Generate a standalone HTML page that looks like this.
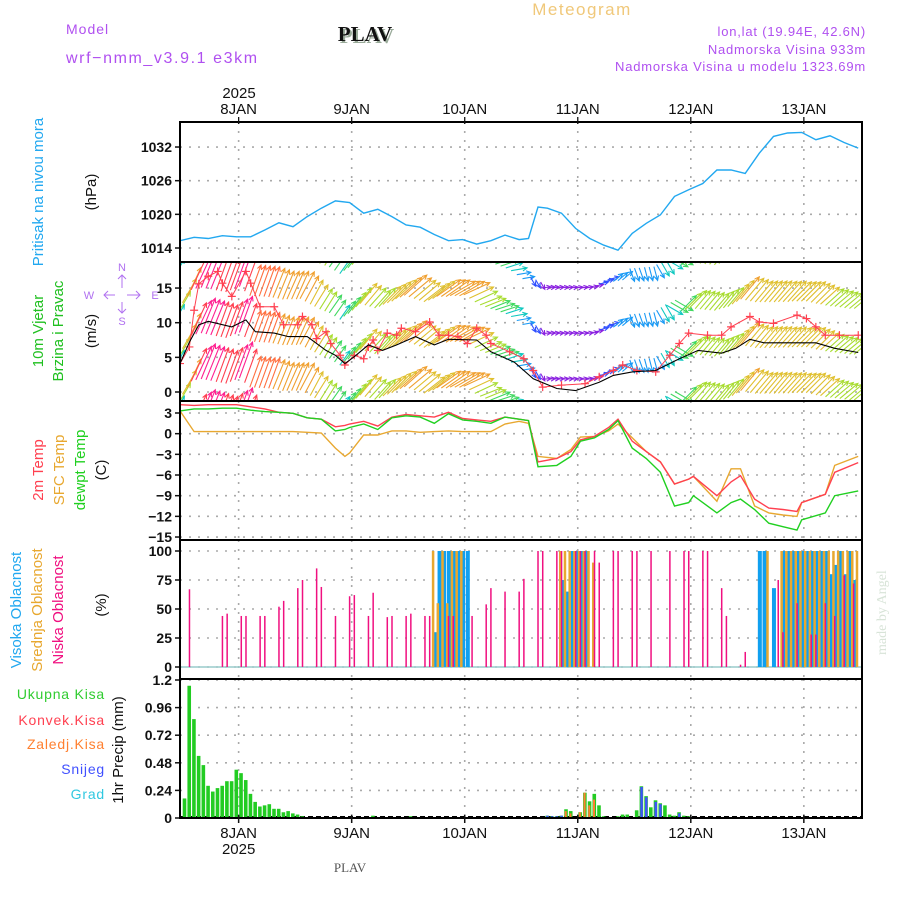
<!DOCTYPE html>
<html><head><meta charset="utf-8"><style>
html,body{margin:0;padding:0;background:#fff;}
svg{display:block;font-family:"Liberation Sans",sans-serif;}
</style></head><body>
<svg id="chart" width="900" height="900" viewBox="0 0 900 900" xmlns="http://www.w3.org/2000/svg">
<defs>
<clipPath id="cp-press"><rect x="180" y="122" width="682" height="140"/></clipPath>
<clipPath id="cp-wind"><rect x="181" y="263" width="680" height="137"/></clipPath>
<clipPath id="cp-temp"><rect x="180" y="401" width="682" height="139"/></clipPath>
<clipPath id="cp-cloud"><rect x="180" y="540" width="682" height="139"/></clipPath>
<clipPath id="cp-prec"><rect x="180" y="679" width="682" height="139"/></clipPath>
</defs>
<!-- header -->
<text x="582" y="15" font-size="17" fill="#f0c87a" text-anchor="middle" letter-spacing="1.5">Meteogram</text>
<text x="66" y="34" font-size="14" fill="#b050f0" letter-spacing="1">Model</text>
<text x="66" y="63" font-size="16" fill="#b050f0" letter-spacing="1.6">wrf−nmm_v3.9.1  e3km</text>
<text x="367" y="43" font-size="21" font-weight="bold" font-family="Liberation Serif,serif" fill="#9a9" text-anchor="middle">PLAV</text>
<text x="365" y="41" font-size="21" font-weight="bold" font-family="Liberation Serif,serif" fill="#111" text-anchor="middle">PLAV</text>
<text x="866" y="36" font-size="13" fill="#b050f0" text-anchor="end" letter-spacing="0.8">lon,lat (19.94E, 42.6N)</text>
<text x="866" y="54" font-size="13" fill="#b050f0" text-anchor="end" letter-spacing="0.8">Nadmorska Visina 933m</text>
<text x="866" y="71" font-size="13" fill="#b050f0" text-anchor="end" letter-spacing="0.8">Nadmorska Visina u modelu 1323.69m</text>
<text x="239" y="98" font-size="15" fill="#111" text-anchor="middle">2025</text>
<text x="350" y="872" font-size="13" font-family="Liberation Serif,serif" fill="#555" text-anchor="middle">PLAV</text>
<text transform="translate(886,655) rotate(-90)" font-size="14" font-family="Liberation Serif,serif" fill="#d8e4d8">made by Angel</text>
<g id="grid"></g>
<g id="marks"></g>
<g id="frames"></g>
<g id="labels"></g>
<!-- axis titles -->
<g font-size="15">
<text transform="translate(43,192) rotate(-90)" text-anchor="middle" fill="#22a8f0">Pritisak na nivou mora</text>
<text transform="translate(96,192) rotate(-90)" text-anchor="middle" fill="#111">(hPa)</text>
<text transform="translate(43,331) rotate(-90)" text-anchor="middle" fill="#20c020">10m Vjetar</text>
<text transform="translate(63,331) rotate(-90)" text-anchor="middle" fill="#20c020">Brzina i Pravac</text>
<text transform="translate(96,331) rotate(-90)" text-anchor="middle" fill="#111">(m/s)</text>
<g>
<path d="M104,295H115M127,295H140M108,291L104,295L108,299M136,291L140,295L136,299M122,275V288M122,302V313M118,279L122,275L126,279M118,309L122,313L126,309" stroke="#b070f0" stroke-width="1" fill="none"/>
<g fill="#b070f0" font-size="11" text-anchor="middle">
<text x="122" y="271">N</text><text x="122" y="325">S</text>
<text x="89" y="299">W</text><text x="155" y="299">E</text>
</g>
</g>
<text transform="translate(43,470) rotate(-90)" text-anchor="middle" fill="#ff4050">2m Temp</text>
<text transform="translate(64,470) rotate(-90)" text-anchor="middle" fill="#e8a830">SFC Temp</text>
<text transform="translate(85,470) rotate(-90)" text-anchor="middle" fill="#20d020">dewpt Temp</text>
<text transform="translate(106,470) rotate(-90)" text-anchor="middle" fill="#111">(C)</text>
<text transform="translate(21,610) rotate(-90)" text-anchor="middle" fill="#22a8f0">Visoka Oblacnost</text>
<text transform="translate(42,610) rotate(-90)" text-anchor="middle" fill="#e8a830">Srednja Oblacnost</text>
<text transform="translate(63,610) rotate(-90)" text-anchor="middle" fill="#f01080">Niska Oblacnost</text>
<text transform="translate(106,605) rotate(-90)" text-anchor="middle" fill="#111">(%)</text>
<g text-anchor="end" font-size="14" letter-spacing="0.8">
<text x="105" y="699" fill="#30cc30">Ukupna  Kisa</text>
<text x="105" y="725" fill="#ff4050">Konvek.Kisa</text>
<text x="105" y="749" fill="#ff8030">Zaledj.Kisa</text>
<text x="105" y="774" fill="#4050ff">Snijeg</text>
<text x="105" y="799" fill="#30c8e0">Grad</text>
</g>
<text transform="translate(123,750) rotate(-90)" text-anchor="middle" fill="#111">1hr Precip (mm)</text>
</g>
</svg>
<script>
// ---------- data ----------
const dayLabels = ["8JAN","9JAN","10JAN","11JAN","12JAN","13JAN"];
const pressTicks = [1014,1020,1026,1032];
const windTicks = [0,5,10,15];
const tempTicks = [3,0,-3,-6,-9,-12,-15];
const cloudTicks = [0,25,50,75,100];
const precTicks = ["0","0.24","0.48","0.72","0.96","1.2"];

const pressHours = [0,3,6,9,12,15,18,21,24,27,30,33,36,39,42,45,48,51,54,57,60,63,66,69,72,74,76,78,81,84,87,90,93,96,99,102,105,108,111,114,117,120,123,126,129,132,135,138,141,144];
const pressVals = [1015.3,1015.9,1015.7,1016.2,1016.0,1016.0,1017.2,1018.5,1017.8,1019.6,1021.1,1022.4,1022.1,1020.2,1020.9,1019.6,1018.1,1017.7,1016.4,1015.3,1015.5,1014.7,1015.3,1016.3,1015.5,1015.7,1021.3,1021.1,1020.2,1017.5,1015.7,1014.5,1013.6,1016.6,1018.4,1019.9,1023.2,1024.4,1025.5,1027.9,1027.9,1027.3,1030.9,1033.9,1034.5,1034.6,1033.3,1034.0,1032.8,1031.8];

const windHours = [0,2,4,6,11,14,16,20,23,27,31,33,35,37,40,43,46,50,54,57,63,66,71,75,80,84,89,92,96,101,106,110,115,118,121,124,131,135,139,144];
const windSpeed = [4.1,7.2,9.7,10.2,9.4,10.4,8.7,8.5,8.0,8.0,6.0,5.3,4.1,5.1,6.8,6.0,6.8,8.0,6.8,7.6,7.5,5.8,4.3,1.9,0.5,0.2,1.4,2.4,2.9,3.1,4.8,6.0,5.6,6.3,7.6,7.1,7.1,7.1,6.3,5.7];
const gustHours = [0,2,3,4,6,8,9,11,14,15,17,20,22,25,26,28,29,31,32,34,35,37,39,40,41,42,44,46,47,50,53,55,57,59,61,63,65,66,70,73,75,77,81,86,89,92,94,97,101,104,106,108,112,115,117,121,123,126,131,133,135,137,140,144];
const gustVals = [4.1,6.5,11.8,15.6,16.7,17.4,15.7,13.8,17.4,15.7,12.3,12.3,9.7,9.7,10.9,9.7,7.7,8.7,7.0,5.3,3.9,5.3,4.8,6.5,7.5,6.0,8.5,8.2,9.2,8.7,10.1,8.2,8.2,8.0,7.0,9.2,8.2,7.0,5.8,4.8,3.1,0.7,1.0,1.2,2.2,3.1,3.9,3.1,2.9,5.3,7.0,8.5,8.2,8.2,9.4,10.9,10.1,9.9,11.1,10.6,9.4,8.2,8.2,8.2];
// direction the arrow points (deg, 0=east, 90=north), every 3 hours from hour 0
const windDir = [60,65,68,70,70,70,70,68,66,62,58,55,52,50,48,45,42,40,38,35,30,25,22,18,10,-60,5,5,8,10,15,40,-70,-75,-60,-30,45,50,50,50,50,50,50,48,45,45,42,40,40];

const tempHours = [0,3,6,9,12,15,18,21,24,27,30,33,35,36,39,42,45,48,51,54,57,60,63,66,69,72,74,76,80,83,85,88,91,93,96,99,102,105,108,109,114,117,119,122,125,128,131,132,137,139,144];
const temp2m = [4.2,4.1,4.2,4.2,4.2,3.9,3.6,3.1,2.95,2.3,2.1,1.0,1.2,1.4,1.8,1.1,2.4,2.8,2.6,2.4,3.1,2.2,2.0,1.8,2.4,2.1,1.9,-4.1,-3.6,-2.6,-0.9,-0.4,0.9,2.1,-1.1,-2.6,-4.1,-7.3,-6.6,-6.2,-9.0,-7.0,-6.1,-9.5,-10.8,-11.0,-11.3,-10.0,-8.8,-5.6,-4.2];
const tempSfc = [3.3,0.3,0.3,0.3,0.3,0.3,0.3,0.3,0.3,0.2,0.1,-2.1,-3.3,-2.8,-0.2,-0.2,0.4,0.4,0.2,0.3,0.4,0.3,0.3,0.3,1.4,1.8,1.5,-3.3,-3.6,-2.3,-0.5,-0.4,0.4,1.4,-0.6,-2.6,-4.1,-7.3,-6.6,-6.2,-9.8,-5.1,-5.1,-10.5,-11.5,-11.8,-12.0,-10.0,-8.8,-4.6,-3.3];
const tempDew = [3.3,3.6,3.6,3.7,3.7,3.4,3.2,3.1,2.95,2.3,2.1,0.4,0.6,0.9,1.4,0.6,2.3,2.6,2.4,1.5,2.9,2.0,1.8,1.5,2.4,2.1,1.9,-4.8,-4.6,-3.3,-1.1,-0.6,0.6,1.9,-2.1,-3.6,-5.6,-10.5,-10.0,-9.0,-11.5,-10.0,-9.5,-11.0,-13.0,-13.5,-14.0,-12.5,-11.5,-9.0,-8.3];

const lowHours = [2,9,10,13,14,17,18,21,22,25,26,29,30,33,36,37,40,41,44,45,48,49,52,53,57,58,62,65,66,69,72,73,76,77,80,81,84,85,86,88,89,92,93,96,97,100,104,107,108,111,112,115,116,119,120,127,128,131,134,135,137,139,141,143];
const lowVals = [67,44,46,44,44,44,44,52,57,68,75,85,69,44,61,62,44,64,43,44,44,46,44,44,44,44,44,54,68,65,65,76,100,100,100,100,100,100,100,100,90,100,100,100,100,100,100,100,100,100,100,68,44,2,13,75,30,55,28,28,55,44,79,72];
const midHours = [54,55,56,57,58,59,60,81,82,83,84,85,86,87,88,125,128,129,130,131,132,133,134,135,136,137,138,139,140,141,142,143,144];
const midVals = [100,55,100,55,100,100,100,100,100,100,100,100,100,100,90,100,100,100,100,100,100,100,100,100,100,100,100,100,100,100,100,100,100];
const highHours = [54,55,56,57,58,59,60,61,81,82,83,84,85,86,123,124,126,128,129,130,131,132,133,134,135,136,137,138,139,140,141,142,143];
const highVals = [30,100,100,100,100,100,100,100,75,65,100,100,100,100,100,100,68,100,100,100,100,100,100,100,100,100,100,80,88,100,80,100,75];

const precHours = [1,2,3,4,5,6,7,8,9,10,11,12,13,14,15,16,17,18,19,20,21,22,23,24,25,26,41,49,78,79,80,81,82,83,85,86,87,88,89,90,93,94,95,97,98,99,100,101,102,103,104,105,106,107,108];
const precTotal = [0.17,1.15,0.86,0.54,0.46,0.28,0.23,0.26,0.28,0.32,0.32,0.42,0.39,0.33,0.21,0.14,0.10,0.11,0.12,0.08,0.08,0.05,0.06,0.04,0.03,0.015,0.02,0.015,0.02,0.015,0.015,0.02,0.076,0.06,0.05,0.22,0.145,0.21,0.11,0.015,0.015,0.03,0.03,0.067,0.276,0.19,0.093,0.154,0.128,0.11,0.03,0.02,0.05,0.02,0.015];
const precFrz = [0,0,0,0,0,0,0,0,0,0,0,0,0,0,0,0,0,0,0,0,0,0,0,0,0,0,0,0,0,0,0,0,0.06,0.04,0.05,0.22,0.11,0.16,0,0,0,0,0,0,0,0,0,0,0,0,0,0,0,0,0];
const precSnow = [0,0,0,0,0,0,0,0,0,0,0,0,0,0,0,0,0,0,0,0,0,0,0,0,0,0,0,0,0.02,0.015,0.015,0.02,0,0,0,0,0,0,0,0,0,0,0,0,0.27,0.18,0,0.14,0.12,0,0,0,0.04,0,0];

// ---------- scales ----------
const X0 = 180, X1 = 862, PXH = 4.71, DAY0 = 12.45;
const xH = h => X0 + h * PXH;
const yPress = p => 248 - (p - 1014) * 5.61;
const yWind = v => 392 - v * 6.93;
const yTemp = t => 413 + (3 - t) * 6.89;
const yCloud = c => 667 - c * 1.16;
const yPrec = p => 818 - p * 115;
const NS = "http://www.w3.org/2000/svg";
function mk(tag, attrs, parent){const e=document.createElementNS(NS,tag);for(const k in attrs)e.setAttribute(k,attrs[k]);if(parent)parent.appendChild(e);return e;}
const grid = document.getElementById('grid'), marks = document.getElementById('marks'), frames = document.getElementById('frames'), labels = document.getElementById('labels');

const panels = [
 {name:'pressure',top:122,bot:262,ticks:pressTicks,f:yPress},
 {name:'wind',top:262,bot:401,ticks:windTicks,f:yWind},
 {name:'temperature',top:401,bot:540,ticks:tempTicks,f:yTemp},
 {name:'cloud',top:540,bot:679,ticks:cloudTicks,f:yCloud},
 {name:'precip',top:679,bot:818,ticks:precTicks,f:v=>yPrec(parseFloat(v))}
];
panels.forEach(p=>{
  p.ticks.forEach(t=>{
    const y=p.f(t);
    const gl=mk('line',{x1:X0,x2:X1,y1:y,y2:y,stroke:'#aaa','stroke-width':1.6,'stroke-dasharray':'2,7'},grid);
    
    
    const tk=mk('line',{x1:X0-5,x2:X0,y1:y,y2:y,stroke:'#111','stroke-width':1.5},frames);
    
    
    const tl=mk('text',{x:X0-8,y:y+5,'text-anchor':'end','font-size':14,'font-weight':'bold',fill:'#111'},labels);
    tl.textContent=String(t).replace('-','\u2212');
    
    
  });
  for(let d=0;d<dayLabels.length;d++){
    const x=xH(DAY0+24*d);
    const vl=mk('line',{x1:x,x2:x,y1:p.top,y2:p.bot,stroke:'#aaa','stroke-width':1.6,'stroke-dasharray':'2,7'},grid);
    
    
  }
  const fr=mk('rect',{x:X0,y:p.top,width:X1-X0,height:p.bot-p.top,fill:'none',stroke:'#000','stroke-width':2},frames);
  
  
});
dayLabels.forEach((d,i)=>{
  const x=xH(DAY0+24*i);
  const t1=mk('line',{x1:x,x2:x,y1:117,y2:124,stroke:'#111','stroke-width':1.3},frames);
  
  
  const t2=mk('line',{x1:x,x2:x,y1:815,y2:823,stroke:'#111','stroke-width':1.5},frames);
  
  
  const a=mk('text',{x:x,y:114,'text-anchor':'middle','font-size':15,fill:'#111'},labels);
  a.textContent=d;
  
  
  const b=mk('text',{x:x,y:838,'text-anchor':'middle','font-size':15,fill:'#111'},labels);
  b.textContent=d;
  
  
});
const yb=mk('text',{x:xH(DAY0),y:854,'text-anchor':'middle','font-size':15,fill:'#111'},labels);
yb.textContent='2025';



function linePath(hours, vals, f){return hours.map((h,i)=>(i?'L':'M')+xH(h).toFixed(1)+','+f(vals[i]).toFixed(1)).join(' ');}
function interp(hours, vals, h){if(h<=hours[0])return vals[0];for(let i=1;i<hours.length;i++){if(h<=hours[i]){const t=(h-hours[i-1])/(hours[i]-hours[i-1]);return vals[i-1]+t*(vals[i]-vals[i-1]);}}return vals[vals.length-1];}

// pressure
const gP=mk('g',{'clip-path':'url(#cp-press)'},marks);
const pl=mk('path',{d:linePath(pressHours,pressVals,yPress),fill:'none',stroke:'#22a8f0','stroke-width':1.4},gP);



// wind arrows
function spdColor(s){
  if(s<1.5)return '#8a20e0'; if(s<2.5)return '#3050ff'; if(s<3.5)return '#1a9af5'; if(s<4.5)return '#10c8c0';
  if(s<5.5)return '#40d860'; if(s<6.5)return '#a8dc30'; if(s<7.5)return '#e0c030'; if(s<8.5)return '#f0a030';
  if(s<9.2)return '#ff7040'; if(s<9.8)return '#ff4050'; return '#ff2090';
}
const gW=mk('g',{'clip-path':'url(#cp-wind)'},marks);
windDir.forEach((ang,i)=>{
  for(let k=0;k<3;k++){
    const h=i*3+k; if(h>145)continue;
    const s=interp(windHours,windSpeed,h);
    const sc=Math.max(s,1.1);
    const L=4+3.3*s, a=ang*Math.PI/180;
    const dx=Math.cos(a)*L, dy=-Math.sin(a)*L;
    const col=spdColor(s);
    for(let r=-3;r<=3;r++){
      const cx=xH(h), cy=yWind(sc+0.8+r*6.6);
      if(cy<240||cy>430)continue;
      const x1=cx-dx/2,y1=cy-dy/2,x2=cx+dx/2,y2=cy+dy/2;
      const ha=Math.atan2(y2-y1,x2-x1);
      const hx1=x2-5*Math.cos(ha-0.45),hy1=y2-5*Math.sin(ha-0.45),hx2=x2-5*Math.cos(ha+0.45),hy2=y2-5*Math.sin(ha+0.45);
      const ar=mk('path',{d:`M${x1.toFixed(1)},${y1.toFixed(1)}L${x2.toFixed(1)},${y2.toFixed(1)}M${hx1.toFixed(1)},${hy1.toFixed(1)}L${x2.toFixed(1)},${y2.toFixed(1)}L${hx2.toFixed(1)},${hy2.toFixed(1)}`,fill:'none',stroke:col,'stroke-width':1.1},gW);
      
      
    }
  }
});
const gl1=mk('path',{d:linePath(gustHours,gustVals,yWind),fill:'none',stroke:'#ff4050','stroke-width':1},gW);


gustHours.forEach((h,i)=>{
  const x=xH(h),y=yWind(gustVals[i]);
  const c=mk('path',{d:`M${x-4},${y}H${x+4}M${x},${y-4}V${y+4}`,stroke:'#ff4050','stroke-width':1.2},gW);
  
  
});
const ws=mk('path',{d:linePath(windHours,windSpeed,yWind),fill:'none',stroke:'#000','stroke-width':1.1},gW);



// temperature
const gT=mk('g',{'clip-path':'url(#cp-temp)'},marks);
const tS=mk('path',{d:linePath(tempHours,tempSfc,yTemp),fill:'none',stroke:'#e8a830','stroke-width':1.4},gT);


const t2=mk('path',{d:linePath(tempHours,temp2m,yTemp),fill:'none',stroke:'#ff4050','stroke-width':1.4},gT);


const tD=mk('path',{d:linePath(tempHours,tempDew,yTemp),fill:'none',stroke:'#20d020','stroke-width':1.4},gT);



// cloud
const gC=mk('g',{'clip-path':'url(#cp-cloud)'},marks);
const base=mk('line',{x1:X0,x2:X1,y1:yCloud(0),y2:yCloud(0),stroke:'#9cc','stroke-width':1.5},gC);


highHours.forEach((h,i)=>{
  const y=yCloud(highVals[i]);
  const r=mk('rect',{x:xH(h)-1.5,y:y,width:4,height:yCloud(0)-y,fill:'#10a0f0'},gC);
  
  
});
midHours.forEach((h,i)=>{
  const y=yCloud(midVals[i]);
  const r=mk('rect',{x:xH(h)-2.5,y:y,width:2.5,height:yCloud(0)-y,fill:'#e8a830'},gC);
  
  
});
lowHours.forEach((h,i)=>{
  const y=yCloud(lowVals[i]);
  const r=mk('rect',{x:xH(h)-0.7,y:y,width:1.5,height:yCloud(0)-y,fill:'#f01080'},gC);
  
  
});

// precipitation
const gR=mk('g',{'clip-path':'url(#cp-prec)'},marks);
const pb=mk('line',{x1:X0,x2:X1,y1:817,y2:817,stroke:'#000','stroke-width':2,'stroke-dasharray':'5,3'},gR);


precHours.forEach((h,i)=>{
  const x=xH(h);
  const y=yPrec(precTotal[i]);
  const r=mk('rect',{x:x-2,y:y,width:3.6,height:818-y,fill:'#22cc22'},gR);
  
  
  if(precFrz[i]>0){const y2=yPrec(precFrz[i]);
    const o=mk('rect',{x:x-1.5,y:y2,width:2,height:818-y2,fill:'#ff8030'},gR);
    
    }
  if(precSnow[i]>0){const y3=yPrec(precSnow[i]);
    const b=mk('rect',{x:x-1.2,y:y3,width:2.4,height:818-y3,fill:'#4050ff'},gR);
    
    }
});
</script>
</body></html>
